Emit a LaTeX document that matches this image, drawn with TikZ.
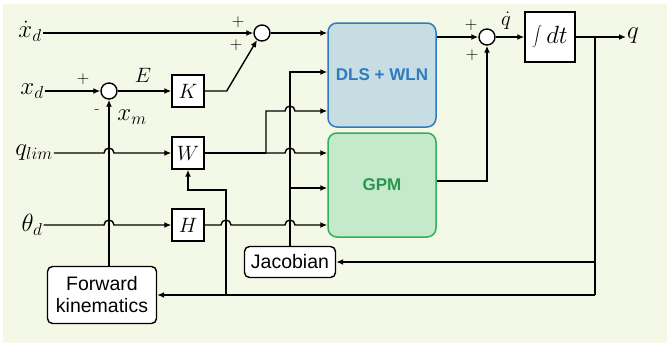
\documentclass[tikz,border=0pt]{standalone}
\usepackage{fontspec}
\setsansfont{Liberation Sans}
\usetikzlibrary{arrows.meta,positioning,calc}
\definecolor{bgcream}{HTML}{F4F8E7}
\definecolor{dlsfill}{HTML}{C6DDE3}
\definecolor{dlsline}{HTML}{2E7BC0}
\definecolor{gpmfill}{HTML}{C4EACB}
\definecolor{gpmline}{HTML}{2FB15B}

\begin{document}
\begin{tikzpicture}[x=1pt,y=-1pt,
  blk/.style={draw, line width=1.4pt, fill=white, minimum width=32pt, minimum height=32pt, inner sep=0pt, font=\fontsize{20}{20}\selectfont},
  sumc/.style={draw, circle, line width=1.4pt, fill=white, minimum size=16pt, inner sep=0pt},
  rbox/.style={draw, rounded corners=5pt, line width=1.4pt, fill=white, align=center, inner sep=2pt, font=\sffamily\fontsize{19.5}{22}\selectfont},
  big/.style={rounded corners=9pt, line width=1.5pt, minimum width=108pt, minimum height=104pt, font=\sffamily\bfseries\fontsize{17}{17}\selectfont},
  lbl/.style={font=\fontsize{24}{24}\selectfont, inner sep=1pt},
  sgn/.style={font=\fontsize{16}{16}\selectfont, inner sep=0pt},
  wire/.style={line width=1.4pt},
  >={Latex[length=7pt,width=6pt]}
]
% background
\fill[white] (0,0) rectangle (667,343);
\fill[bgcream] (3,4) rectangle (667,343);

% inputs and blocks
\node[lbl] (xdd) at (30,31) {$\dot{x}_d$};
\node[lbl] (xd) at (32,91) {$x_d$};
\node[lbl] (ql) at (34,153) {$q_{lim}$};
\node[lbl] (thd) at (32,225) {$\theta_d$};
\node[sumc] (s1) at (262,33) {};
\node[sumc] (s2) at (109,91) {};
\node[blk] (K) at (188,91) {$K$};
\node[blk] (W) at (188,153) {$W$};
\node[blk] (H) at (188,225) {$H$};
\node[big, draw=dlsline, fill=dlsfill, text=dlsline] (dls) at (382,75) {DLS + WLN};
\node[big, draw=gpmline, fill=gpmfill, text=gpmline!85!black] (gpm) at (382,185) {GPM};
\node[sumc] (s3) at (487,37) {};
\node[blk, minimum width=50pt, minimum height=50pt, font=\fontsize{24}{24}\selectfont] (int) at (550,37) {$\displaystyle\int dt$};
\node[lbl, anchor=west] (q) at (626,36) {$q$};
\node[rbox, minimum width=91pt, minimum height=31pt] (jac) at (290,262) {Jacobian};
\node[rbox, minimum width=109pt, minimum height=57pt] (fk) at (102,295) {Forward\\kinematics};

% signs and signal names
\node[sgn] at (238,22) {$+$};
\node[sgn] at (236,45) {$+$};
\node[sgn] at (83,79) {$+$};
\node[sgn] at (97,112) {-};
\node[lbl, font=\fontsize{20}{20}\selectfont] at (143,75) {$E$};
\node[lbl] at (132,117) {$x_m$};
\node[sgn] at (471,25) {$+$};
\node[sgn] at (472,55) {$+$};
\node[lbl, font=\fontsize{20}{20}\selectfont] at (506,21) {$\dot{q}$};

% forward path
\draw[wire,->] (xdd.east |- s1) -- (s1.west);
\draw[wire,->] (xd.east) -- (s2.west);
\draw[wire,->] (s2.east) -- (K.west);
\draw[wire,->] (K.east) -- ++(22,0) coordinate (kb) -- (s1.-125);
\draw[wire,->] (s1.east) -- (s1 -| dls.west);
\draw[wire,->] (dls.east |- s3) -- (s3.west);
\draw[wire,->] (s3.east) -- (int.west);
\draw[wire,->] (int.east) -- (int.east -| q.west);
\draw[wire,->] (gpm.east |- 0,181) -| (s3.south);

% q_lim and theta_d lines with hops
\draw[wire,->] (ql.east) -- ($(s2 |- ql)+(-5,0)$) arc[start angle=180, end angle=0, radius=5pt] -- (W.west);
\draw[wire] (W.east) -- (266,153) coordinate (wb);
\draw[wire,->] (wb) -- ($(jac.north |- wb)+(-5,0)$) arc[start angle=180, end angle=0, radius=5pt] -- (gpm.west |- wb);
\draw[wire,->] (wb) -- (266,111) -- ($(jac.north |- 0,111)+(-5,0)$) arc[start angle=180, end angle=0, radius=5pt] -- (dls.west |- 0,111);
\draw[wire,->] (thd.east) -- ($(s2 |- thd)+(-5,0)$) arc[start angle=180, end angle=0, radius=5pt] -- (H.west);
\draw[wire,->] (H.east) -- (221,225) arc[start angle=180, end angle=0, radius=5pt]
  -- ($(jac.north |- H)+(-5,0)$) arc[start angle=180, end angle=0, radius=5pt] -- (gpm.west |- H);

% Jacobian line
\draw[wire,->] (jac.north) -- (jac.north |- 0,72) -- (dls.west |- 0,72);
\draw[wire,->] (jac.north |- 0,188) -- (gpm.west |- 0,188);

% feedback
\coordinate (ob) at (595,37);
\draw[wire] (ob) -- (ob |- fk.east) coordinate (oc);
\draw[wire,->] (oc) -- (fk.east);
\draw[wire,->] (ob |- jac) -- (jac.east);
\draw[wire,->] (fk.north -| s2) -- (s2.south);
\draw[wire,->] (226,295) -- (226,190) -| (W.south);
\end{tikzpicture}
\end{document}
